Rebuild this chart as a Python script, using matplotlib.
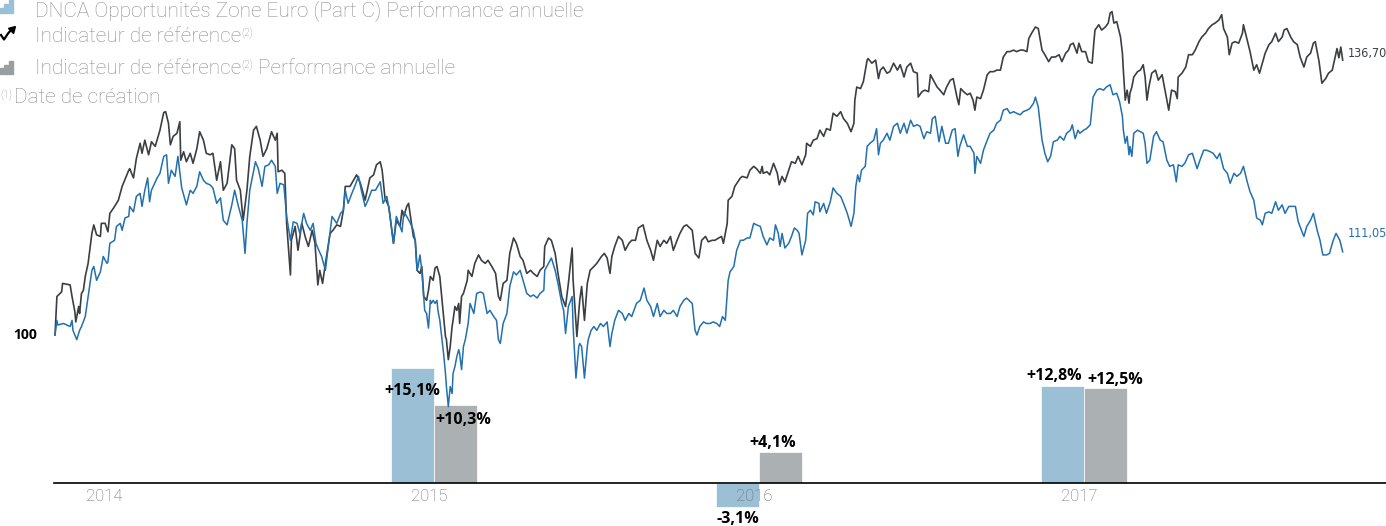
import numpy as np
import matplotlib.pyplot as plt
from matplotlib import font_manager as fm
from matplotlib.lines import Line2D
from matplotlib.patches import Rectangle

# --- series : jours depuis la date de creation, base 100 ---
jours_indice = [0, 2, 7, 8, 16, 18, 21, 22, 25, 26, 28, 30, 32, 35, 39, 41, 44, 48, 49, 53,
                56, 58, 62, 67, 71, 78, 79, 83, 86, 90, 92, 95, 99, 102, 106, 111, 115, 117, 120, 122,
                125, 129, 132, 133, 136, 139, 143, 146, 150, 153, 157, 160, 164, 167, 171, 175, 178, 182, 187, 190,
                192, 196, 199, 203, 206, 210, 213, 217, 220, 224, 229, 233, 235, 236, 240, 243, 245, 249, 250, 254,
                257, 261, 265, 268, 272, 275, 278, 280, 283, 286, 291, 294, 298, 302, 305, 307, 312, 319, 323, 328,
                333, 337, 340, 344, 346, 349, 353, 358, 361, 365, 367, 369, 372, 374, 377, 379, 381, 383, 386, 388,
                390, 393, 395, 397, 400, 402, 404, 407, 409, 411, 413, 414, 416, 418, 420, 421, 423, 425, 427, 428,
                430, 432, 436, 437, 441, 444, 448, 451, 455, 458, 462, 466, 469, 471, 474, 478, 481, 485, 488, 492,
                495, 499, 503, 506, 510, 513, 517, 518, 522, 525, 529, 532, 536, 540, 543, 547, 548, 552, 555, 557,
                560, 563, 566, 570, 573, 578, 581, 584, 587, 589, 592, 596, 600, 603, 607, 610, 614, 617, 622, 626,
                630, 633, 637, 640, 644, 647, 651, 654, 658, 661, 665, 668, 674, 677, 681, 684, 688, 691, 695, 698,
                702, 705, 707, 711, 712, 716, 719, 725, 727, 732, 735, 739, 742, 746, 748, 749, 753, 756, 760, 764,
                766, 769, 772, 776, 779, 783, 786, 790, 794, 795, 799, 802, 806, 809, 813, 816, 820, 823, 827, 831,
                834, 838, 842, 845, 846, 848, 852, 855, 859, 860, 864, 868, 871, 873, 876, 880, 883, 887, 891, 894,
                898, 901, 905, 908, 912, 913, 917, 920, 924, 926, 929, 933, 936, 940, 943, 947, 950, 954, 956, 958,
                961, 965, 968, 971, 973, 975, 979, 982, 986, 989, 993, 996, 1000, 1003, 1007, 1010, 1014, 1017, 1021, 1024,
                1028, 1030, 1033, 1037, 1040, 1044, 1047, 1051, 1054, 1058, 1062, 1065, 1069, 1072, 1074, 1077, 1081, 1083, 1086, 1090,
                1093, 1097, 1099, 1100, 1104, 1107, 1111, 1114, 1116, 1118, 1120, 1123, 1127, 1129, 1130, 1132, 1134, 1136, 1137, 1139,
                1141, 1145, 1148, 1151, 1153, 1155, 1157, 1160, 1164, 1167, 1171, 1174, 1176, 1178, 1181, 1185, 1187, 1188, 1192, 1196,
                1199, 1203, 1206, 1210, 1213, 1217, 1220, 1224, 1227, 1231, 1234, 1236, 1240, 1242, 1245, 1248, 1252, 1256, 1257, 1261,
                1264, 1268, 1271, 1274, 1277, 1280, 1284, 1287, 1291, 1294, 1298, 1300, 1303, 1307, 1310, 1314, 1317, 1321, 1324, 1328,
                1331, 1333, 1337, 1340, 1344, 1347, 1351, 1354, 1356, 1358, 1360, 1362]
indice = [100.0, 105.0, 105.6, 106.7, 106.5, 105.0, 103.0, 101.7, 103.7, 102.8, 105.4, 105.8, 107.6, 109.3, 113.2, 114.3, 113.0, 112.8, 114.5, 114.5,
          113.4, 115.8, 116.5, 117.5, 119.3, 121.4, 121.6, 120.4, 122.9, 124.9, 123.6, 125.3, 123.4, 125.1, 124.5, 126.6, 128.9, 129.0, 127.5, 124.7,
          125.8, 126.2, 127.7, 122.7, 123.8, 122.5, 123.6, 122.3, 124.2, 126.4, 125.3, 123.6, 123.4, 123.6, 120.1, 122.5, 118.8, 119.7, 124.7, 124.2,
          120.1, 118.8, 114.9, 118.8, 123.2, 126.6, 127.1, 125.3, 123.2, 124.2, 126.4, 125.3, 126.2, 121.2, 121.4, 121.0, 114.5, 107.8, 112.3, 114.1,
          111.0, 114.5, 112.6, 111.5, 113.6, 111.9, 106.5, 108.4, 106.7, 109.3, 113.2, 113.6, 114.3, 114.1, 116.2, 119.3, 119.3, 120.8, 119.7, 117.5,
          120.4, 120.8, 122.1, 122.5, 121.4, 117.8, 116.7, 111.9, 114.9, 114.1, 116.2, 115.4, 116.7, 117.1, 114.5, 112.8, 112.3, 108.4, 108.0, 108.9,
          105.0, 104.5, 105.8, 107.6, 107.1, 108.7, 108.9, 107.6, 105.0, 102.4, 99.8, 99.4, 96.8, 98.5, 101.1, 101.9, 103.7, 103.2, 104.1, 101.5,
          105.0, 105.4, 107.1, 108.4, 107.6, 109.3, 110.4, 109.7, 109.3, 109.7, 108.9, 108.0, 105.0, 104.5, 106.7, 107.1, 110.6, 112.6, 111.9, 110.2,
          109.7, 108.0, 108.4, 108.0, 107.6, 108.4, 108.9, 111.5, 112.6, 112.3, 110.6, 108.0, 105.0, 103.7, 106.7, 111.3, 107.1, 99.8, 104.5, 106.3,
          101.9, 106.7, 108.4, 108.9, 109.3, 110.2, 110.6, 110.0, 108.0, 110.2, 111.5, 112.8, 112.3, 111.0, 111.9, 112.3, 112.3, 113.9, 114.3, 112.3,
          111.0, 109.7, 112.3, 111.5, 112.3, 111.9, 112.8, 111.0, 112.3, 113.2, 114.1, 114.3, 113.6, 110.6, 110.0, 112.3, 112.8, 112.1, 112.3, 112.3,
          112.6, 112.8, 111.9, 114.5, 117.5, 118.0, 119.3, 120.4, 120.6, 120.4, 121.4, 121.9, 121.6, 121.0, 121.9, 121.0, 121.2, 120.8, 122.3, 121.0,
          119.5, 120.6, 119.9, 121.4, 122.5, 122.3, 123.2, 122.1, 123.4, 124.9, 124.5, 125.3, 125.5, 126.6, 125.8, 126.8, 126.6, 128.8, 128.4, 129.0,
          128.1, 127.5, 126.4, 127.5, 130.5, 132.2, 132.0, 132.9, 135.7, 135.9, 135.3, 135.7, 133.3, 134.4, 134.8, 134.0, 134.2, 135.3, 134.4, 135.1,
          133.5, 134.8, 135.3, 134.2, 134.0, 130.9, 131.6, 131.8, 131.6, 133.8, 133.1, 132.2, 131.8, 131.2, 132.2, 133.1, 133.3, 130.9, 129.9, 132.0,
          131.6, 131.2, 131.4, 130.5, 129.2, 130.9, 130.7, 131.8, 133.8, 134.2, 134.2, 134.4, 134.4, 136.1, 136.8, 136.8, 137.0, 136.8, 137.0, 137.0,
          136.8, 138.5, 139.2, 140.0, 139.8, 137.0, 136.4, 135.5, 136.1, 136.1, 136.4, 135.5, 136.6, 137.0, 137.7, 137.9, 136.6, 137.9, 136.8, 136.8,
          135.5, 135.3, 138.3, 139.6, 140.3, 139.6, 140.0, 140.5, 141.8, 142.0, 140.5, 140.7, 138.7, 136.6, 134.4, 130.5, 131.8, 130.1, 131.4, 132.2,
          133.5, 134.2, 134.4, 135.1, 133.5, 130.5, 132.2, 134.0, 134.4, 133.1, 133.8, 131.8, 130.5, 129.2, 131.8, 131.6, 130.7, 133.5, 134.0, 134.8,
          136.4, 136.4, 137.0, 138.1, 138.7, 139.2, 139.8, 140.3, 140.5, 140.9, 141.6, 139.8, 138.7, 136.4, 137.9, 138.1, 137.9, 139.2, 140.3, 138.3,
          136.8, 134.4, 135.1, 134.0, 135.3, 136.6, 137.7, 138.1, 139.2, 138.1, 138.7, 139.6, 139.8, 138.7, 138.1, 137.7, 136.1, 134.8, 136.1, 136.6,
          137.9, 138.1, 135.5, 132.7, 133.3, 134.0, 134.4, 136.1, 137.2, 136.0, 137.4, 135.7]

jours_fonds = [0, 2, 3, 9, 16, 18, 19, 23, 26, 28, 32, 35, 39, 41, 44, 48, 51, 55, 56, 58,
               63, 65, 69, 71, 74, 78, 79, 83, 86, 90, 92, 95, 98, 100, 102, 108, 111, 115, 118, 120,
               123, 127, 130, 134, 139, 143, 146, 150, 153, 157, 160, 164, 167, 171, 175, 178, 182, 187, 190, 194,
               198, 201, 203, 206, 212, 215, 219, 222, 226, 229, 233, 235, 238, 242, 245, 249, 252, 256, 259, 263,
               266, 270, 273, 276, 279, 282, 286, 289, 293, 298, 302, 305, 307, 310, 314, 317, 321, 324, 328, 331,
               335, 339, 344, 347, 351, 354, 358, 361, 365, 367, 369, 372, 376, 379, 381, 383, 384, 386, 388, 390,
               391, 393, 395, 397, 398, 400, 402, 404, 405, 407, 409, 411, 413, 414, 416, 418, 420, 421, 423, 425,
               427, 428, 430, 432, 434, 437, 439, 443, 446, 450, 453, 457, 460, 464, 467, 469, 471, 474, 478, 481,
               485, 488, 492, 495, 499, 503, 506, 510, 513, 517, 518, 522, 525, 529, 532, 536, 538, 540, 543, 547,
               548, 551, 554, 555, 557, 560, 563, 564, 567, 570, 573, 577, 580, 584, 587, 589, 592, 596, 600, 603,
               607, 610, 615, 619, 623, 626, 630, 633, 637, 640, 644, 647, 651, 654, 658, 661, 665, 668, 674, 677,
               679, 682, 686, 689, 693, 696, 700, 703, 706, 709, 712, 714, 718, 721, 725, 728, 732, 735, 739, 742,
               746, 749, 753, 756, 760, 762, 765, 767, 769, 772, 776, 779, 782, 785, 787, 790, 794, 796, 799, 802,
               804, 808, 809, 813, 816, 820, 823, 827, 831, 834, 838, 842, 845, 847, 849, 851, 853, 857, 859, 862,
               866, 869, 871, 873, 876, 880, 883, 887, 891, 894, 898, 901, 905, 908, 912, 915, 919, 922, 926, 928,
               931, 935, 938, 942, 945, 949, 952, 955, 957, 961, 965, 968, 972, 973, 975, 979, 982, 986, 989, 993,
               996, 1000, 1003, 1007, 1010, 1014, 1017, 1021, 1024, 1028, 1031, 1035, 1037, 1040, 1044, 1047, 1050, 1053, 1056, 1060,
               1063, 1067, 1070, 1074, 1076, 1079, 1082, 1084, 1088, 1091, 1095, 1098, 1102, 1105, 1109, 1112, 1116, 1119, 1123, 1126,
               1129, 1130, 1132, 1134, 1136, 1137, 1139, 1141, 1145, 1148, 1151, 1153, 1155, 1158, 1162, 1165, 1169, 1172, 1176, 1179,
               1183, 1186, 1188, 1192, 1195, 1199, 1203, 1208, 1211, 1215, 1218, 1222, 1225, 1229, 1232, 1236, 1240, 1243, 1247, 1250,
               1254, 1257, 1261, 1264, 1268, 1271, 1275, 1277, 1280, 1284, 1287, 1291, 1294, 1298, 1301, 1305, 1308, 1312, 1315, 1319,
               1321, 1324, 1328, 1331, 1335, 1338, 1341, 1345, 1348, 1352, 1355, 1359, 1362]
fonds = [100.0, 101.9, 101.3, 101.5, 101.1, 101.9, 100.6, 99.4, 100.6, 101.1, 102.4, 105.0, 108.4, 108.9, 107.1, 108.2, 110.2, 109.3, 109.5, 111.9,
         112.3, 114.1, 114.5, 113.6, 115.2, 115.4, 116.7, 116.0, 118.0, 118.4, 116.7, 118.8, 120.4, 117.3, 118.8, 120.4, 121.0, 123.2, 123.4, 119.7,
         121.4, 120.6, 123.2, 119.1, 116.9, 118.8, 118.4, 119.3, 121.2, 120.1, 119.7, 119.5, 119.1, 117.1, 117.8, 114.9, 114.3, 116.9, 118.8, 116.7,
         114.9, 110.6, 114.5, 118.8, 122.5, 121.6, 119.3, 121.9, 122.1, 122.7, 121.9, 118.4, 119.7, 119.5, 115.4, 112.3, 114.7, 114.5, 113.2, 115.8,
         114.5, 113.6, 114.5, 111.9, 111.0, 110.2, 108.4, 111.5, 115.4, 114.5, 115.8, 116.2, 118.8, 117.1, 118.4, 119.3, 120.6, 118.8, 116.7, 117.5,
         118.8, 118.8, 119.9, 117.1, 118.0, 115.8, 111.9, 115.4, 114.1, 113.4, 116.0, 115.4, 114.5, 113.6, 112.3, 108.4, 108.9, 110.4, 108.4, 105.0,
         103.2, 102.8, 100.9, 104.5, 104.1, 104.5, 104.1, 104.5, 103.2, 101.9, 99.8, 97.6, 95.0, 93.3, 90.7, 93.3, 92.4, 95.0, 95.9, 97.2,
         98.1, 97.6, 95.5, 98.5, 99.4, 101.5, 104.1, 102.8, 105.4, 105.6, 105.4, 102.8, 103.2, 102.4, 101.9, 99.4, 98.9, 101.5, 102.8, 106.3,
         108.2, 107.8, 108.4, 107.1, 105.4, 105.0, 105.2, 104.8, 105.4, 105.8, 108.4, 109.3, 110.0, 108.4, 106.7, 104.1, 103.2, 100.2, 103.7, 105.0,
         101.1, 94.4, 98.5, 98.9, 98.5, 94.4, 98.5, 99.4, 100.6, 101.1, 100.6, 101.5, 101.1, 101.7, 98.5, 100.2, 101.9, 103.2, 102.8, 101.9,
         102.8, 102.4, 104.1, 104.5, 106.1, 104.5, 103.7, 102.4, 104.1, 102.4, 103.2, 102.8, 102.8, 103.2, 102.4, 103.7, 104.5, 104.8, 104.1, 100.6,
         100.0, 101.1, 101.7, 101.5, 101.5, 101.7, 101.5, 101.1, 102.4, 101.9, 107.1, 108.2, 108.9, 111.0, 112.3, 112.3, 112.6, 112.6, 114.5, 114.3,
         114.1, 112.8, 111.7, 112.6, 112.3, 114.3, 113.2, 111.5, 113.2, 111.3, 111.9, 112.8, 113.9, 113.6, 113.2, 110.4, 112.3, 115.8, 116.2, 115.6,
         117.3, 117.1, 116.0, 117.1, 115.8, 117.3, 119.1, 118.4, 118.0, 117.1, 115.8, 114.1, 115.8, 119.3, 120.8, 119.9, 121.4, 121.9, 124.5, 124.9,
         125.3, 126.8, 123.4, 124.9, 125.3, 126.2, 125.3, 127.1, 127.5, 126.2, 127.5, 126.2, 127.9, 127.1, 127.3, 127.1, 125.5, 126.4, 126.2, 128.1,
         128.4, 125.1, 127.1, 124.9, 124.9, 126.6, 126.8, 123.2, 124.5, 126.0, 124.5, 124.5, 123.6, 121.0, 123.2, 122.3, 124.0, 125.3, 126.2, 126.6,
         127.5, 127.9, 129.2, 129.4, 128.8, 129.0, 128.8, 128.6, 129.0, 129.2, 129.4, 130.1, 130.9, 129.6, 125.3, 123.6, 122.5, 123.2, 125.1, 125.3,
         125.8, 125.3, 126.2, 126.6, 127.3, 125.5, 126.6, 126.2, 126.6, 126.8, 127.3, 130.9, 131.8, 132.0, 131.8, 132.2, 132.5, 131.2, 131.4, 130.3,
         128.4, 126.6, 124.9, 125.8, 123.4, 124.5, 123.2, 126.2, 126.6, 126.4, 126.2, 124.9, 122.3, 122.7, 125.8, 126.4, 125.3, 125.1, 122.7, 121.9,
         122.1, 119.9, 122.1, 121.9, 122.3, 123.4, 123.6, 121.6, 122.7, 124.0, 124.0, 123.8, 123.6, 122.9, 123.6, 121.6, 121.0, 119.7, 121.0, 120.6,
         121.0, 121.9, 119.9, 118.6, 117.5, 115.2, 114.9, 114.3, 115.8, 116.0, 115.8, 117.3, 116.2, 116.9, 115.8, 116.7, 116.7, 116.7, 114.7, 113.4,
         112.8, 114.1, 114.9, 115.8, 113.6, 112.3, 110.4, 110.4, 110.6, 112.3, 113.2, 112.3, 110.8]

# --- performances annuelles (%) ---
annees = ['2014', '2015', '2016', '2017']
perf_fonds = [np.nan, 15.1, -3.1, 12.8]
perf_indice = [np.nan, 10.3, 4.1, 12.5]
valeur_finale_indice = '136,70'
valeur_finale_fonds = '111,05'

# decalage des etiquettes de barres (pixels)
decal_fonds = [None, (0, -23), (0, -12), (-8, 10)]
decal_indice = [None, (8, -15), (-8, 9), (10, 8)]

bleu_ligne = '#2270ad'
gris_ligne = '#3b3e43'
bleu_barre = '#9bbfd4'
gris_barre = '#abb0b3'
gris_texte = '#8e8e8e'


def police_etroite():
    # une police condensee si elle existe, sinon Roboto en plus petit
    for f in fm.fontManager.ttflist:
        if f.name == 'Liberation Sans Narrow':
            return dict(family='Liberation Sans Narrow', fontsize=11)
    for f in fm.fontManager.ttflist:
        if 'Condensed' in f.name or (f.name == 'DejaVu Sans' and 'condensed' in str(f.stretch)):
            return dict(family=f.name, fontstretch='condensed', fontsize=9)
    return dict(family='Roboto', fontsize=9)


W, H = 1386, 526
fig = plt.figure(figsize=(W / 100, H / 100), dpi=100)

# axe des barres (categories annuelles)
ax_b = fig.add_axes([0, 0, 1, 1])
ax_b.set_xlim(-109 / 325, (W - 109) / 325)
ax_b.set_ylim(-(H - 483) / 7.6, 483 / 7.6)
ax_b.axis('off')

x = np.arange(len(annees))
w = 43 / 325
ax_b.bar(x - w / 2, perf_fonds, w, color=bleu_barre, edgecolor='white', linewidth=0.5, zorder=1)
ax_b.bar(x + w / 2, perf_indice, w, color=gris_barre, edgecolor='white', linewidth=0.5, zorder=1)
ax_b.axhline(0, xmin=54 / W, xmax=1, color='black', lw=1.2, zorder=3)

for i, an in enumerate(annees):
    ax_b.annotate(an, xy=(i, -1.84), xytext=(-5, 0), textcoords='offset pixels',
                  ha='center', va='center', fontsize=12, color='#6b6b6b',
                  family='Roboto', fontweight='light', zorder=4)


def etiquette(v):
    return ('+' if v > 0 else '') + f'{v:.1f}'.replace('.', ',') + '%'


for i in range(len(annees)):
    for vals, dec, dx in ((perf_fonds, decal_fonds, -w / 2), (perf_indice, decal_indice, w / 2)):
        if np.isnan(vals[i]):
            continue
        ax_b.annotate(etiquette(vals[i]), xy=(i + dx, vals[i]), xytext=dec[i],
                      textcoords='offset pixels', ha='center', va='center',
                      fontsize=11.5, fontweight='bold', family='Open Sans', color='black', zorder=5)

# axe des courbes (base 100)
ax_l = fig.add_axes([0, 0, 1, 1])
ax_l.set_xlim(-55 * 1.058, 1362 + (W - 1342.7) * 1.058)
ax_l.set_ylim(100 - (H - 335) / 7.7, 100 + 335 / 7.7)
ax_l.axis('off')
ax_l.patch.set_alpha(0)

ax_l.plot(jours_indice, indice, color=gris_ligne, lw=1.2, solid_joinstyle='round')
ax_l.plot(jours_fonds, fonds, color=bleu_ligne, lw=1.1, solid_joinstyle='round')

ax_l.annotate('100', xy=(0, 100), xytext=(-18, 0), textcoords='offset pixels',
              ha='right', va='center', fontsize=10, fontweight='bold', family='Open Sans')
etroite = police_etroite()
ax_l.annotate(valeur_finale_indice, xy=(jours_indice[-1], 136.70), xytext=(5, -1),
              textcoords='offset pixels', ha='left', va='center', color=gris_ligne, **etroite)
ax_l.annotate(valeur_finale_fonds, xy=(jours_fonds[-1], fonds[-1]), xytext=(5, 18),
              textcoords='offset pixels', ha='left', va='center', color=bleu_ligne, **etroite)

# legende
leg = dict(fontsize=15, color=gris_texte, family='Roboto', fontweight='light', va='baseline')
sup = dict(fontsize=7.5, color=gris_texte, family='Roboto', fontweight='light', va='top')


def fy(py):
    return 1 - py / H


fig.text(35 / W, fy(16), 'DNCA Opportunités Zone Euro (Part C) Performance annuelle', **leg)
t2 = fig.text(35 / W, fy(41.5), 'Indicateur de référence', **leg)
ax_l.annotate('(2)', xy=(1.0, 0.95), xycoords=t2, ha='left', **sup)
t3 = fig.text(35 / W, fy(74), 'Indicateur de référence', **leg)
s3 = ax_l.annotate('(2)', xy=(1.0, 0.95), xycoords=t3, ha='left', **sup)
ax_l.annotate(' Performance annuelle', xy=(1.0, 0.0), xycoords=(s3, t3), ha='left',
              **{**leg, 'va': 'bottom'})
t4 = fig.text(14 / W, fy(103.3), 'Date de création', **leg)
ax_l.annotate('(1)', xy=(-0.01, 0.95), xycoords=t4, ha='right', **sup)

# icones
for (bx, by, bw, bh) in [(0, 8, 2.5, 5.3), (4.3, 4, 3.4, 9.3), (9.3, 0, 4, 13.3)]:
    fig.add_artist(Rectangle((bx / W, fy(by + bh)), bw / W, bh / H, color=bleu_barre,
                             transform=fig.transFigure))
for (bx, by, bw, bh) in [(0, 68, 2.5, 6), (4.3, 65, 3.4, 9), (9.3, 61, 4, 13)]:
    fig.add_artist(Rectangle((bx / W, fy(by + bh)), bw / W, bh / H, color='#999ea1',
                             transform=fig.transFigure))
zx = np.array([1, 4, 8, 11]) / W
zy = fy(np.array([35, 39.5, 33.5, 30]))
fig.add_artist(Line2D(zx, zy, color='black', lw=1.6, transform=fig.transFigure))
fig.add_artist(Line2D([12.5 / W], [fy(28.5)], marker=(3, 0, -45), markersize=6,
                      color='black', transform=fig.transFigure))

fig.savefig('out.png', dpi=100)
